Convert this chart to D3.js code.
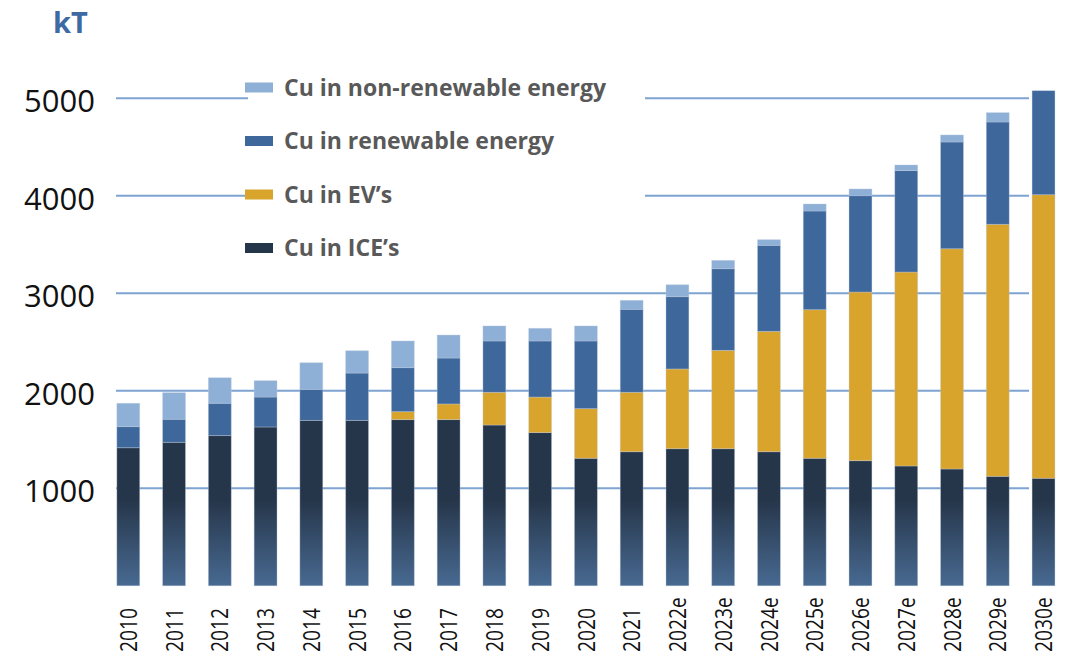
<!DOCTYPE html>
<html>
<head>
<meta charset="utf-8">
<script src="https://cdn.jsdelivr.net/npm/d3@7"></script>
<style>
  html, body { margin: 0; padding: 0; background: #fff; }
  svg { display: block; }
</style>
</head>
<body>
<script>
var years = ['2010', '2011', '2012', '2013', '2014', '2015', '2016', '2017', '2018', '2019', '2020',
             '2021', '2022e', '2023e', '2024e', '2025e', '2026e', '2027e', '2028e', '2029e', '2030e'];

// kT per segment, bottom to top
var ice       = [1416, 1472, 1540, 1629, 1697, 1697, 1704, 1704, 1649, 1571, 1308,
                 1375, 1406, 1406, 1375, 1308, 1283, 1229, 1198, 1123, 1103];
var ev        = [0, 0, 0, 0, 0, 0, 82, 161, 336, 365, 509,
                 610, 818, 1009, 1235, 1524, 1730, 1989, 2259, 2585, 2908];
var renewable = [216, 236, 332, 307, 318, 485, 451, 471, 526, 575, 694,
                 851, 741, 837, 882, 1012, 988, 1040, 1095, 1049, 1067];
var nonRenew  = [240, 273, 262, 168, 273, 229, 274, 236, 154, 130, 154,
                 92, 123, 86, 58, 72, 69, 58, 72, 96, 0];

var yTicks = [1000, 2000, 3000, 4000, 5000];

var seriesKeys = ['ice', 'ev', 'renewable', 'nonRenew'];
var seriesLabels = {
    ice: 'Cu in ICE\u2019s',
    ev: 'Cu in EV\u2019s',
    renewable: 'Cu in renewable energy',
    nonRenew: 'Cu in non-renewable energy'
};
var colors = {
    ice: '#26364a',
    ev: '#d9a42c',
    renewable: '#3e679b',
    nonRenew: '#8eb0d6'
};

var width = 1066,
    height = 656;

var svg = d3.select('body').append('svg')
    .attr('width', width)
    .attr('height', height);

var defs = svg.append('defs');
var grad = defs.append('linearGradient')
    .attr('id', 'iceGrad')
    .attr('gradientUnits', 'userSpaceOnUse')
    .attr('x1', 0).attr('y1', 500)
    .attr('x2', 0).attr('y2', 592);
grad.append('stop').attr('offset', 0).attr('stop-color', '#26364a');
grad.append('stop').attr('offset', 1).attr('stop-color', '#4a6d96');

var table = years.map(function(y, i) {
    return { year: y, ice: ice[i], ev: ev[i], renewable: renewable[i], nonRenew: nonRenew[i] };
});

var stacked = d3.stack().keys(seriesKeys)(table);

var x = d3.scaleBand()
    .domain(years)
    .range([105.4, 1066.4])
    .paddingInner(0.5)
    .paddingOuter(0.25);

var y = d3.scaleLinear()
    .domain([0, 5000])
    .range([585.8, 98.3]);

var gridLeft = 116,
    gridRight = 1029;

// gridlines
svg.append('g')
    .selectAll('line')
    .data(yTicks)
    .enter()
    .append('line')
    .attr('x1', gridLeft)
    .attr('x2', gridRight)
    .attr('y1', function(d) { return y(d); })
    .attr('y2', function(d) { return y(d); })
    .style('stroke', '#7ea3d1')
    .style('stroke-width', 2);

// y tick labels
svg.append('g')
    .selectAll('text')
    .data(yTicks)
    .enter()
    .append('text')
    .attr('x', 95)
    .attr('y', function(d) { return y(d) + 3; })
    .attr('dy', '0.35em')
    .style('text-anchor', 'end')
    .style('font-family', '"Open Sans", sans-serif')
    .style('font-size', '31px')
    .style('fill', '#111')
    .text(function(d) { return d; });

// unit label
svg.append('text')
    .attr('x', 53)
    .attr('y', 33)
    .style('font-family', '"Open Sans", sans-serif')
    .style('font-weight', 'bold')
    .style('font-size', '29px')
    .style('fill', '#3d6aa2')
    .text('kT');

// bars
var layers = svg.append('g')
    .selectAll('g')
    .data(stacked)
    .enter()
    .append('g')
    .style('fill', function(d) { return d.key === 'ice' ? 'url(#iceGrad)' : colors[d.key]; });

layers.selectAll('rect')
    .data(function(d) { return d.filter(function(s) { return s[1] - s[0] > 0; }); })
    .enter()
    .append('rect')
    .attr('x', function(d) { return x(d.data.year); })
    .attr('width', x.bandwidth())
    .attr('y', function(d) { return y(d[1]); })
    .attr('height', function(d) { return y(d[0]) - y(d[1]); })
    .style('stroke', 'rgba(190,205,225,0.45)')
    .style('stroke-width', 0.8);

// x labels, reading bottom-up, starting near the bottom edge
svg.append('g')
    .selectAll('text')
    .data(years)
    .enter()
    .append('text')
    .attr('transform', function(d) {
        return 'translate(' + (x(d) + x.bandwidth() / 2) + ',652) rotate(-90) scale(0.8,1)';
    })
    .attr('dy', '0.36em')
    .style('text-anchor', 'start')
    .style('font-family', '"Open Sans", sans-serif')
    .style('font-size', '24px')
    .style('fill', '#111')
    .text(function(d) { return d; });

// legend
var legend = svg.append('g');

legend.append('rect')
    .attr('x', 248)
    .attr('y', 66)
    .attr('width', 397)
    .attr('height', 206)
    .style('fill', '#fff');

var legendOrder = ['nonRenew', 'renewable', 'ev', 'ice'];
var legendY = d3.scalePoint()
    .domain(legendOrder)
    .range([87.5, 248]);

var items = legend.selectAll('g.item')
    .data(legendOrder)
    .enter()
    .append('g')
    .attr('class', 'item')
    .attr('transform', function(d) { return 'translate(0,' + legendY(d) + ')'; });

items.append('rect')
    .attr('x', 245)
    .attr('y', -5)
    .attr('width', 28)
    .attr('height', 10)
    .style('fill', function(d) { return colors[d]; });

items.append('text')
    .attr('x', 284)
    .attr('dy', '0.36em')
    .style('font-family', '"Open Sans", sans-serif')
    .style('font-weight', 'bold')
    .style('font-size', '23px')
    .style('fill', '#595959')
    .text(function(d) { return seriesLabels[d]; });
</script>
</body>
</html>
